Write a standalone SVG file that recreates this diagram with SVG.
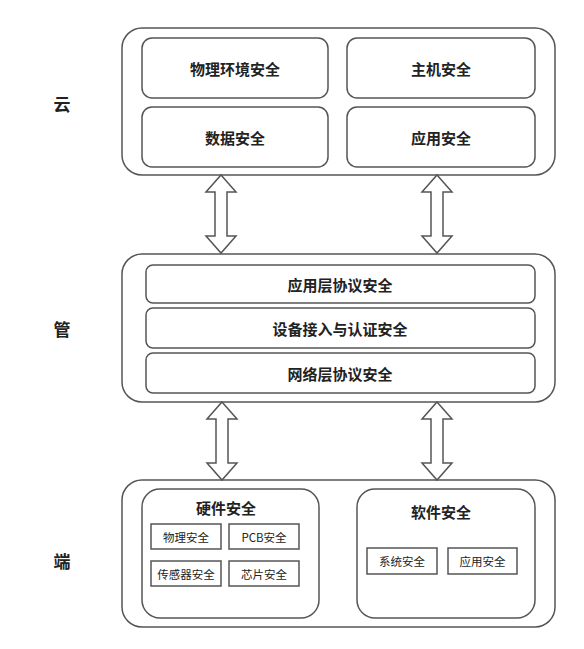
<svg xmlns="http://www.w3.org/2000/svg" width="584" height="649" viewBox="0 0 584 649">
<style>
  .box { fill: #fff; stroke: #555; stroke-width: 1.5; }
  .sbox { fill: #fff; stroke: #555; stroke-width: 1.5; }
  .arrow { fill: #fff; stroke: #555; stroke-width: 1.5; stroke-linejoin: miter; }
  text { font-family: "Noto Sans CJK SC", "Liberation Sans", sans-serif; fill: #222; text-anchor: middle; dominant-baseline: central; }
  .lbl { font-size: 17px; font-weight: bold; }
  .t { font-size: 15px; font-weight: bold; }
  .ttl { font-size: 15px; font-weight: bold; }
  .s { font-size: 11.5px; }
</style>
<rect width="584" height="649" fill="#fff"/>

<g id="label-cloud"><text class="lbl" x="62" y="103">云</text></g>
<g id="label-pipe"><text class="lbl" x="62" y="328">管</text></g>
<g id="label-end"><text class="lbl" x="62" y="560">端</text></g>

<g id="cloud">
  <rect class="box" x="122" y="28" width="433" height="147" rx="20"/>
  <g id="physical-env"><rect class="box" x="142" y="38" width="186" height="60" rx="10"/><text class="t" x="235" y="68">物理环境安全</text></g>
  <g id="host"><rect class="box" x="347" y="38" width="188" height="60" rx="10"/><text class="t" x="441" y="68">主机安全</text></g>
  <g id="data"><rect class="box" x="142" y="107" width="186" height="60" rx="10"/><text class="t" x="235" y="137">数据安全</text></g>
  <g id="app"><rect class="box" x="347" y="107" width="188" height="60" rx="10"/><text class="t" x="441" y="137">应用安全</text></g>
</g>

<g id="pipe">
  <rect class="box" x="122" y="254" width="433" height="148" rx="20"/>
  <g id="app-protocol"><rect class="box" x="146" y="265" width="389" height="38" rx="7"/><text class="t" x="340" y="284">应用层协议安全</text></g>
  <g id="device-access"><rect class="box" x="146" y="308" width="389" height="40" rx="7"/><text class="t" x="340" y="328">设备接入与认证安全</text></g>
  <g id="net-protocol"><rect class="box" x="146" y="353" width="389" height="40" rx="7"/><text class="t" x="340" y="373">网络层协议安全</text></g>
</g>

<g id="end">
  <rect class="box" x="122" y="480" width="433" height="147" rx="20"/>
  <g id="hardware">
    <rect class="box" x="142" y="489" width="177" height="129" rx="18"/>
    <text class="ttl" x="226" y="507">硬件安全</text>
    <g id="hw-physical"><rect class="sbox" x="151" y="524" width="70" height="25"/><text class="s" x="186" y="536.5">物理安全</text></g>
    <g id="hw-pcb"><rect class="sbox" x="229" y="524" width="70" height="25"/><text class="s" x="264" y="536.5">PCB安全</text></g>
    <g id="hw-sensor"><rect class="sbox" x="151" y="561" width="70" height="25"/><text class="s" x="186" y="573.5">传感器安全</text></g>
    <g id="hw-chip"><rect class="sbox" x="229" y="561" width="70" height="25"/><text class="s" x="264" y="573.5">芯片安全</text></g>
  </g>
  <g id="software">
    <rect class="box" x="357" y="489" width="178" height="129" rx="18"/>
    <text class="ttl" x="441" y="511">软件安全</text>
    <g id="sw-system"><rect class="sbox" x="367" y="548" width="70" height="26"/><text class="s" x="402" y="561">系统安全</text></g>
    <g id="sw-app"><rect class="sbox" x="448" y="548" width="69" height="26"/><text class="s" x="482.5" y="561">应用安全</text></g>
  </g>
</g>

<g id="connectors">
  <polygon class="arrow" points="221,175 236,192 227,192 227,236 236,236 221,253 206,236 215,236 215,192 206,192"/>
  <polygon class="arrow" points="437,175 452,192 443,192 443,236 452,236 437,253 422,236 431,236 431,192 422,192"/>
  <polygon class="arrow" points="222,402 237,419 228,419 228,463 237,463 222,480 207,463 216,463 216,419 207,419"/>
  <polygon class="arrow" points="437,402 452,419 443,419 443,463 452,463 437,480 422,463 431,463 431,419 422,419"/>
</g>
</svg>
